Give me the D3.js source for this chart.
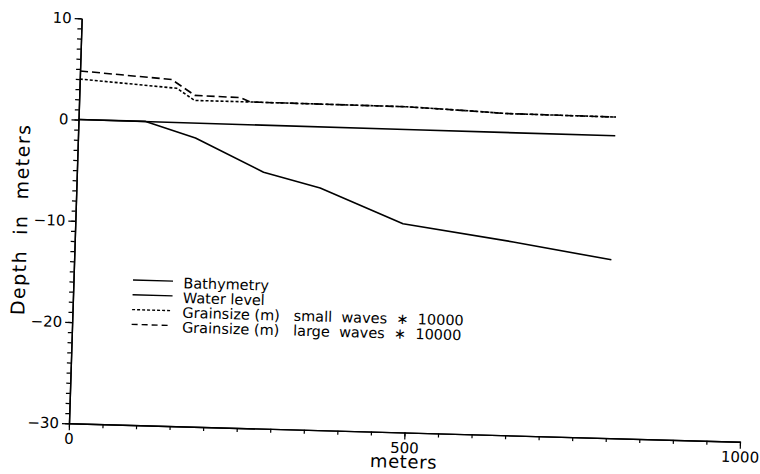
<!DOCTYPE html>
<html>
<head>
<meta charset="utf-8">
<script src="https://cdn.jsdelivr.net/npm/d3@7"></script>
<style>
  html, body { margin: 0; padding: 0; background: #fff; }
  svg { display: block; font-family: "DejaVu Sans", sans-serif; }
  .axis .domain { stroke: #000; stroke-width: 1.4; }
  .axis line { stroke: #000; stroke-width: 1.2; }
  .axis text { fill: #000; font-size: 15px; font-family: "DejaVu Sans", sans-serif; }
</style>
</head>
<body>
<svg id="chart" width="760" height="474"></svg>
<script>
// Cross-shore distance (m) and bed level (m)
const bathyX = [0, 100, 175, 278, 363, 488, 653, 800];
const bathyY = [0, 0, -1.5, -4.7, -6.1, -9.4, -10.9, -12.4];

// Water level (m)
const waterX = [0, 500, 800];
const waterY = [0, -0.1, -0.15];

// Grain size (m) x 10000, small waves
const smallX = [0, 145, 172, 255, 488, 587, 637, 800];
const smallY = [4.0, 3.35, 2.2, 2.2, 2.15, 1.9, 1.75, 1.7];

// Grain size (m) x 10000, large waves
const largeX = [0, 137, 172, 240, 255, 488, 587, 637, 800];
const largeY = [4.8, 4.2, 2.7, 2.6, 2.2, 2.15, 1.9, 1.75, 1.7];

// Axis ticks
const xMajorTicks = [0, 500, 1000];
const xMinorTicks = d3.range(0, 1001, 50);
const yMajorTicks = [-30, -20, -10, 0, 10];
const yMinorTicks = d3.range(-30, 11, 1);

const legendLabels = [
  "Bathymetry",
  "Water level",
  "Grainsize (m)   small  waves  \u2217  10000",
  "Grainsize (m)   large  waves  \u2217  10000"
];

const W = 671.25, H = 405.2;
const svg = d3.select("#chart");

// Plot frame, drawn with a small tilt
const g = svg.append("g")
  .attr("transform", "matrix(0.99962,0.02741,-0.03134,0.99951,81.7,18.3)");

const x = d3.scaleLinear().domain([0, 1000]).range([0, W]);
const y = d3.scaleLinear().domain([-30, 10]).range([H, 0]);

// x axis: minor then major ticks
g.append("g").attr("class", "axis")
  .attr("transform", `translate(0,${H})`)
  .call(d3.axisBottom(x).tickValues(xMinorTicks).tickSize(4).tickSizeOuter(0).tickFormat(""));
g.append("g").attr("class", "axis")
  .attr("transform", `translate(0,${H})`)
  .call(d3.axisBottom(x).tickValues(xMajorTicks).tickSize(7).tickSizeOuter(0).tickPadding(3).tickFormat(d3.format("d")));

// y axis: minor then major ticks
g.append("g").attr("class", "axis")
  .call(d3.axisLeft(y).tickValues(yMinorTicks).tickSize(4).tickSizeOuter(0).tickFormat(""));
g.append("g").attr("class", "axis")
  .call(d3.axisLeft(y).tickValues(yMajorTicks).tickSize(7).tickSizeOuter(0).tickPadding(3).tickFormat(d3.format("d")));

// Axis titles
g.append("text")
  .attr("x", x(500)).attr("y", H + 35.5)
  .attr("text-anchor", "middle")
  .style("font-size", "18px").style("letter-spacing", "0.6px")
  .text("meters");

g.append("text")
  .attr("transform", `translate(-48,${y(-10)}) rotate(-90)`)
  .attr("text-anchor", "middle")
  .style("font-size", "19px").style("letter-spacing", "1.5px")
  .style("white-space", "pre")
  .text("Depth  in  meters");

// Series
const line = d3.line().x(d => x(d[0])).y(d => y(d[1]));
const series = [
  { pts: d3.zip(bathyX, bathyY), dash: null },
  { pts: d3.zip(waterX, waterY), dash: null },
  { pts: d3.zip(smallX, smallY), dash: "3,2" },
  { pts: d3.zip(largeX, largeY), dash: "8,4" }
];

g.selectAll("path.series")
  .data(series)
  .join("path")
  .attr("class", "series")
  .attr("d", d => line(d.pts))
  .attr("fill", "none")
  .attr("stroke", "#000")
  .attr("stroke-width", 1.6)
  .attr("stroke-linejoin", "round")
  .attr("stroke-dasharray", d => d.dash);

// Legend
const legendDash = [null, null, "3,2", "6,4"];
const leg = g.append("g").attr("transform", "translate(59.5,260.2)");
const rows = leg.selectAll("g")
  .data(legendLabels)
  .join("g")
  .attr("transform", (d, i) => `translate(0,${i * 14.8})`);
rows.append("line")
  .attr("x1", 0).attr("x2", 40).attr("y1", 0).attr("y2", 0)
  .attr("stroke", "#000").attr("stroke-width", 1.4)
  .attr("stroke-dasharray", (d, i) => legendDash[i]);
rows.append("text")
  .attr("x", 50.5).attr("y", 6.8)
  .style("font-size", "14.5px")
  .style("white-space", "pre")
  .text(d => d);
</script>
</body>
</html>
